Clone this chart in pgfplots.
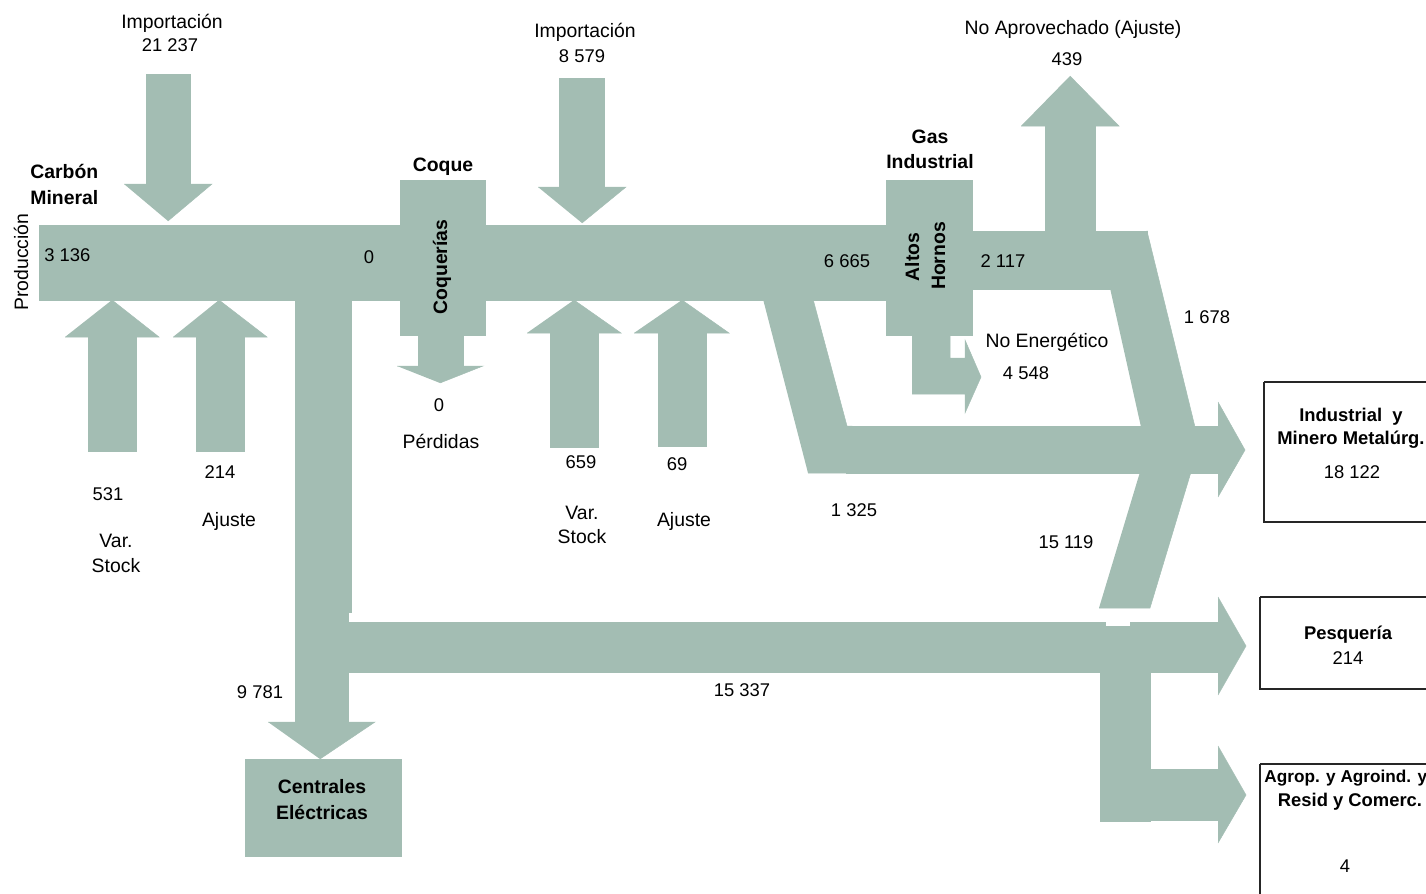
\documentclass[border=0pt]{standalone}
\usepackage{pgfplots}
\pgfplotsset{compat=1.18}
\usepackage{fontspec}
\setmainfont{Liberation Sans}
\definecolor{flowc}{HTML}{A3BDB3}
\tikzset{
  flow/.style={fill=flowc, draw=flowc, line width=0.25pt},
  lbl/.style={font=\fontsize{9.7}{11}\selectfont, inner sep=0pt, anchor=base},
  num/.style={font=\fontsize{9.2}{11}\selectfont, inner sep=0pt, anchor=base},
  bl/.style={font=\bfseries\fontsize{9.7}{11}\selectfont, inner sep=0pt, anchor=base},
  bs/.style={font=\bfseries\fontsize{9.2}{11}\selectfont, inner sep=0pt, anchor=base},
}
\begin{document}
\begin{tikzpicture}
\begin{axis}[
  width=713pt, height=447pt, scale only axis,
  xmin=0, xmax=1426, ymin=0, ymax=894, y dir=reverse,
  hide axis, clip=true,
]
% main trunk and nodes
\addplot[flow] coordinates {(39,225) (887,225) (887,300) (39,300)};
\addplot[flow] coordinates {(400,180) (485,180) (485,335) (400,335)};
\addplot[flow] coordinates {(886,180) (972,180) (972,335) (886,335)};
\addplot[flow] coordinates {(971,231) (1147,231) (1147,289) (971,289)};
% 1678 diagonal
\addplot[flow] coordinates {(1110,288) (1147,231) (1195,427) (1141,427)};
% 1325 diagonal and industrial band + head
\addplot[flow] coordinates {(763,299) (813,299) (847,426) (852,426) (852,473) (808,473)};
\addplot[flow] coordinates {(846,426) (1219,426) (1219,473) (846,473)};
\addplot[flow] coordinates {(1218,402) (1245,450) (1218,497)};
% 15119 diagonal
\addplot[flow] coordinates {(1140,472) (1191,472) (1150,608) (1099,608)};
% Centrales column, head and box
\addplot[flow] coordinates {(295,298) (351,298) (351,612) (295,612)};
\addplot[flow] coordinates {(295,611) (348,611) (348,723) (295,723)};
\addplot[flow] coordinates {(268,722) (375,722) (320,759)};
\addplot[flow] coordinates {(245,759) (401,759) (401,856) (245,856)};
% 15337 band, pesqueria head
\addplot[flow] coordinates {(347,622) (1219,622) (1219,672) (347,672)};
\addplot[flow] coordinates {(1218,597) (1246,646) (1218,695)};
% vertical connector and agrop arrow
\addplot[flow] coordinates {(1100,622) (1150,622) (1150,821) (1100,821)};
\addplot[flow] coordinates {(1149,769) (1219,769) (1219,820) (1149,820)};
\addplot[flow] coordinates {(1218,746) (1246,795) (1218,843)};
\addplot[fill=white, draw=none] coordinates {(1106,622) (1130,622) (1130,626) (1106,626)};
% Importacion 21237
\addplot[flow] coordinates {(146,74) (190,74) (190,185) (146,185)};
\addplot[flow] coordinates {(124,184) (212,184) (168,221)};
% Importacion 8579
\addplot[flow] coordinates {(559,78) (604,78) (604,188) (559,188)};
\addplot[flow] coordinates {(538,187) (626,187) (582,223)};
% Perdidas
\addplot[flow] coordinates {(418,334) (463,334) (463,367) (418,367)};
\addplot[flow] coordinates {(397,366) (483,366) (440,383)};
% No aprovechado
\addplot[flow] coordinates {(1045,125) (1095,125) (1095,232) (1045,232)};
\addplot[flow] coordinates {(1021,126) (1119,126) (1070,76)};
% No energetico
\addplot[flow] coordinates {(912,334) (950,334) (950,358) (965,358) (965,340) (981,377) (965,413) (965,394) (912,394)};
% Var stock / Ajuste (carbon)
\addplot[flow] coordinates {(88,336) (136,336) (136,451) (88,451)};
\addplot[flow] coordinates {(65,337) (159,337) (112,300)};
\addplot[flow] coordinates {(196,336) (244,336) (244,451) (196,451)};
\addplot[flow] coordinates {(173,337) (267,337) (219,300)};
% Var stock / Ajuste (coque)
\addplot[flow] coordinates {(550,332) (598,332) (598,447) (550,447)};
\addplot[flow] coordinates {(527,333) (621,333) (574,300)};
\addplot[flow] coordinates {(658,332) (706,332) (706,446) (658,446)};
\addplot[flow] coordinates {(634,333) (729,333) (682,300)};
% right boxes
\addplot[draw=black!85, line width=0.7pt, fill=none] coordinates {(1264,382) (1440,382) (1440,522) (1264,522) (1264,382)};
\addplot[draw=black!85, line width=0.7pt, fill=none] coordinates {(1260,597) (1440,597) (1440,689) (1260,689) (1260,597)};
\addplot[draw=black!85, line width=0.7pt, fill=none] coordinates {(1260,764) (1440,764) (1440,910) (1260,910) (1260,764)};

% texts
\node[lbl] at (axis cs:172,28) {Importación};
\node[num] at (axis cs:170,52) {21 237};
\node[lbl] at (axis cs:585,37) {Importación};
\node[num] at (axis cs:582,62) {8 579};
\node[lbl] at (axis cs:1073,34) {No Aprovechado (Ajuste)};
\node[num] at (axis cs:1067,65) {439};
\node[bl, anchor=base west] at (axis cs:30,178) {Carbón};
\node[bl, anchor=base west] at (axis cs:30,204) {Mineral};
\node[lbl, rotate=90] at (axis cs:28,262) {Producción};
\node[num, anchor=base west] at (axis cs:44,261) {3 136};
\node[num] at (axis cs:369,263) {0};
\node[bl] at (axis cs:443,171) {Coque};
\node[bl, rotate=90] at (axis cs:447,267) {Coquerías};
\node[num] at (axis cs:439,411) {0};
\node[lbl] at (axis cs:441,448) {Pérdidas};
\node[num] at (axis cs:847,267) {6 665};
\node[bl] at (axis cs:930,143) {Gas};
\node[bl] at (axis cs:930,168) {Industrial};
\node[bl, rotate=90] at (axis cs:919,257) {Altos};
\node[bl, rotate=90] at (axis cs:945,256) {Hornos};
\node[num] at (axis cs:1003,267) {2 117};
\node[num] at (axis cs:1207,323) {1 678};
\node[lbl] at (axis cs:1047,347) {No Energético};
\node[num] at (axis cs:1026,379) {4 548};
\node[num] at (axis cs:108,500) {531};
\node[lbl] at (axis cs:116,547) {Var.};
\node[lbl] at (axis cs:116,572) {Stock};
\node[num] at (axis cs:220,478) {214};
\node[lbl] at (axis cs:229,526) {Ajuste};
\node[num] at (axis cs:581,468) {659};
\node[num] at (axis cs:677,470) {69};
\node[lbl] at (axis cs:582,519) {Var.};
\node[lbl] at (axis cs:582,543) {Stock};
\node[lbl] at (axis cs:684,526) {Ajuste};
\node[num] at (axis cs:854,516) {1 325};
\node[num] at (axis cs:1066,548) {15 119};
\node[num] at (axis cs:260,698) {9 781};
\node[num] at (axis cs:742,696) {15 337};
\node[bl] at (axis cs:322,793) {Centrales};
\node[bl] at (axis cs:322,819) {Eléctricas};
\node[bs] at (axis cs:1351,421) {Industrial\ \ y};
\node[bs] at (axis cs:1351,444) {Minero Metalúrg.};
\node[num] at (axis cs:1352,478) {18 122};
\node[bs] at (axis cs:1348,639) {Pesquería};
\node[num] at (axis cs:1348,664) {214};
\node[font=\bfseries\fontsize{8.6}{10}\selectfont, inner sep=0pt, anchor=base west] at (axis cs:1264,782) {Agrop. y Agroind. y};
\node[bs] at (axis cs:1350,806) {Resid y Comerc.};
\node[num] at (axis cs:1345,872) {4};
\end{axis}
\pgfresetboundingbox
\path[use as bounding box] (current axis.south west) rectangle (current axis.north east);
\end{tikzpicture}
\end{document}
